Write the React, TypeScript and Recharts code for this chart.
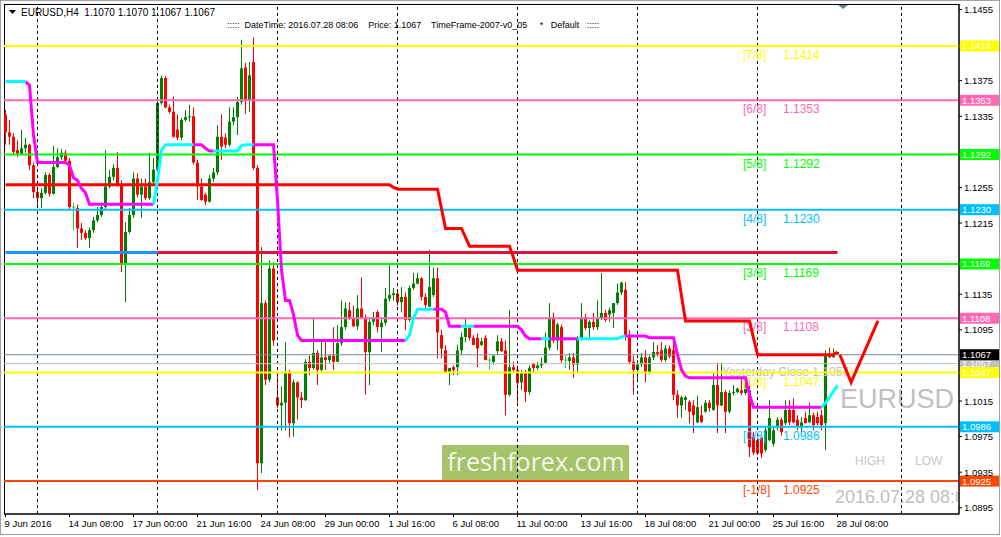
import React from "react";
import { ComposedChart, Bar, Line, XAxis, YAxis, ReferenceLine } from "recharts";

// EURUSD H4 candles, 9 Jun 2016 16:00 .. 28 Jul 2016 08:00 (one entry per bar)
const opens = [
  1.1337, 1.1317, 1.1312, 1.1297, 1.1293, 1.1299, 1.1303, 1.1280, 1.1250, 1.1243,
  1.1249, 1.1269, 1.1248, 1.1278, 1.1289, 1.1294, 1.1285, 1.1233, 1.1232, 1.1209,
  1.1204, 1.1198, 1.1207, 1.1218, 1.1224, 1.1233, 1.1256, 1.1267, 1.1277, 1.1258,
  1.1168, 1.1205, 1.1224, 1.1265, 1.1247, 1.1256, 1.1243, 1.1261, 1.1275, 1.1350,
  1.1378, 1.1345, 1.1340, 1.1320, 1.1311, 1.1331, 1.1334, 1.1335, 1.1283, 1.1256,
  1.1247, 1.1239, 1.1265, 1.1272, 1.1312, 1.1311, 1.1303, 1.1329, 1.1334, 1.1351,
  1.1390, 1.1353, 1.1396, 1.1277, 1.0945, 1.1125, 1.1039, 1.1164, 1.1019, 1.1010,
  1.1013, 1.1047, 1.0990, 1.1036, 1.1019, 1.1016, 1.1059, 1.1052, 1.1069, 1.1050,
  1.1064, 1.1061, 1.1066, 1.1059, 1.1080, 1.1098, 1.1117, 1.1108, 1.1099, 1.1119,
  1.1109, 1.1070, 1.1104, 1.1115, 1.1098, 1.1103, 1.1130, 1.1134, 1.1136, 1.1126,
  1.1132, 1.1106, 1.1142, 1.1147, 1.1153, 1.1132, 1.1121, 1.1134, 1.1153, 1.1089,
  1.1072, 1.1047, 1.1053, 1.1053, 1.1072, 1.1087, 1.1097, 1.1086, 1.1086, 1.1078,
  1.1086, 1.1061, 1.1059, 1.1071, 1.1082, 1.1072, 1.1022, 1.1053, 1.1050, 1.1036,
  1.1046, 1.1025, 1.1057, 1.1052, 1.1055, 1.1058, 1.1075, 1.1109, 1.1083, 1.1098,
  1.1061, 1.1060, 1.1064, 1.1056, 1.1086, 1.1109, 1.1097, 1.1104, 1.1098, 1.1108,
  1.1114, 1.1112, 1.1114, 1.1125, 1.1137, 1.1140, 1.1087, 1.1059, 1.1050, 1.1056,
  1.1064, 1.1047, 1.1064, 1.1070, 1.1072, 1.1061, 1.1074, 1.1072, 1.1022, 1.1010,
  1.1016, 1.1014, 1.1010, 1.0991, 1.0999, 1.1003, 1.1013, 1.1005, 1.1033, 1.1010,
  1.1025, 1.1003, 1.1024, 1.1025, 1.1027, 1.1024, 1.1027, 1.0974, 1.0971, 1.0974,
  1.0960, 1.0971, 1.0967, 1.0985, 1.0994, 1.0990, 1.1005, 1.1005, 1.0994, 1.0985,
  1.0996, 1.0991, 1.0999, 1.0997, 1.0999, 1.0990, 1.1067, 1.1064, 1.1070,
];
const highs = [
  1.1342, 1.1331, 1.1316, 1.1308, 1.1320, 1.1311, 1.1304, 1.1283, 1.1252, 1.1254,
  1.1272, 1.1271, 1.1302, 1.1299, 1.1298, 1.1297, 1.1288, 1.1238, 1.1236, 1.1215,
  1.1207, 1.1210, 1.1222, 1.1233, 1.1238, 1.1297, 1.1275, 1.1281, 1.1295, 1.1263,
  1.1216, 1.1232, 1.1272, 1.1271, 1.1265, 1.1265, 1.1294, 1.1288, 1.1353, 1.1381,
  1.1380, 1.1348, 1.1357, 1.1337, 1.1333, 1.1342, 1.1348, 1.1345, 1.1286, 1.1265,
  1.1249, 1.1269, 1.1277, 1.1325, 1.1337, 1.1316, 1.1345, 1.1345, 1.1357, 1.1421,
  1.1395, 1.1396, 1.1424, 1.1280, 1.1188, 1.1128, 1.1173, 1.1171, 1.1047, 1.1031,
  1.1081, 1.1050, 1.1039, 1.1037, 1.1025, 1.1062, 1.1066, 1.1109, 1.1072, 1.1083,
  1.1081, 1.1066, 1.1098, 1.1100, 1.1128, 1.1126, 1.1126, 1.1122, 1.1134, 1.1154,
  1.1112, 1.1108, 1.1115, 1.1117, 1.1108, 1.1142, 1.1168, 1.1142, 1.1140, 1.1143,
  1.1137, 1.1145, 1.1159, 1.1159, 1.1154, 1.1136, 1.1185, 1.1165, 1.1165, 1.1095,
  1.1078, 1.1052, 1.1055, 1.1078, 1.1092, 1.1109, 1.1100, 1.1089, 1.1091, 1.1086,
  1.1089, 1.1064, 1.1066, 1.1089, 1.1086, 1.1083, 1.1117, 1.1059, 1.1055, 1.1050,
  1.1050, 1.1055, 1.1058, 1.1059, 1.1064, 1.1092, 1.1125, 1.1114, 1.1103, 1.1101,
  1.1066, 1.1069, 1.1069, 1.1088, 1.1125, 1.1113, 1.1106, 1.1114, 1.1128, 1.1159,
  1.1117, 1.1120, 1.1125, 1.1147, 1.1149, 1.1149, 1.1095, 1.1066, 1.1061, 1.1069,
  1.1072, 1.1066, 1.1081, 1.1078, 1.1081, 1.1078, 1.1077, 1.1083, 1.1027, 1.1021,
  1.1021, 1.1016, 1.1016, 1.1021, 1.1010, 1.1016, 1.1016, 1.1047, 1.1058, 1.1058,
  1.1027, 1.1027, 1.1033, 1.1030, 1.1042, 1.1039, 1.1039, 1.0980, 1.0974, 1.0976,
  1.0985, 1.1016, 1.0985, 1.0997, 1.0996, 1.1016, 1.1016, 1.1018, 1.0999, 1.0997,
  1.1003, 1.1013, 1.1002, 1.1003, 1.1005, 1.1072, 1.1075, 1.1074, 1.1070,
];
const lows = [
  1.1303, 1.1303, 1.1292, 1.1289, 1.1292, 1.1294, 1.1275, 1.1243, 1.1232, 1.1232,
  1.1247, 1.1245, 1.1247, 1.1277, 1.1286, 1.1283, 1.1231, 1.1207, 1.1187, 1.1196,
  1.1196, 1.1187, 1.1204, 1.1216, 1.1222, 1.1231, 1.1254, 1.1263, 1.1256, 1.1160,
  1.1126, 1.1203, 1.1221, 1.1244, 1.1221, 1.1241, 1.1241, 1.1259, 1.1272, 1.1348,
  1.1344, 1.1338, 1.1311, 1.1308, 1.1308, 1.1329, 1.1329, 1.1281, 1.1241, 1.1240,
  1.1235, 1.1238, 1.1261, 1.1269, 1.1286, 1.1299, 1.1301, 1.1325, 1.1314, 1.1348,
  1.1338, 1.1340, 1.1275, 1.0915, 1.0934, 1.1033, 1.1036, 1.1077, 1.1007, 1.0982,
  1.0982, 1.0974, 1.0975, 1.0994, 1.1007, 1.1015, 1.1044, 1.1050, 1.1033, 1.1048,
  1.1050, 1.1058, 1.1050, 1.1059, 1.1077, 1.1095, 1.1106, 1.1098, 1.1095, 1.1108,
  1.1022, 1.1033, 1.1100, 1.1092, 1.1070, 1.1100, 1.1127, 1.1128, 1.1122, 1.1115,
  1.1095, 1.1104, 1.1140, 1.1146, 1.1128, 1.1117, 1.1121, 1.1132, 1.1063, 1.1063,
  1.1047, 1.1033, 1.1044, 1.1044, 1.1067, 1.1081, 1.1083, 1.1078, 1.1053, 1.1077,
  1.1061, 1.1050, 1.1056, 1.1068, 1.1070, 1.0999, 1.1020, 1.1047, 1.1013, 1.1027,
  1.1014, 1.1022, 1.1047, 1.1050, 1.1052, 1.1057, 1.1072, 1.1080, 1.1072, 1.1058,
  1.1052, 1.1050, 1.1041, 1.1047, 1.1083, 1.1095, 1.1086, 1.1095, 1.1095, 1.1106,
  1.1104, 1.1104, 1.1097, 1.1123, 1.1134, 1.1083, 1.1056, 1.1022, 1.1039, 1.1053,
  1.1036, 1.1045, 1.1061, 1.1065, 1.1059, 1.1059, 1.1063, 1.1016, 1.0996, 1.0996,
  1.1005, 1.0990, 1.0979, 1.0990, 1.0991, 1.1002, 1.1003, 1.1004, 1.0979, 1.1009,
  1.0979, 1.1001, 1.1021, 1.1024, 1.1022, 1.1022, 1.0952, 1.0954, 1.0954, 1.0951,
  1.0958, 1.0970, 1.0964, 1.0982, 1.0976, 1.0988, 1.0988, 1.0990, 1.0982, 1.0980,
  1.0990, 1.0990, 1.0982, 1.0988, 1.0982, 1.0960, 1.1064, 1.1064, 1.1067,
];
const closes = [
  1.1317, 1.1312, 1.1295, 1.1293, 1.1299, 1.1303, 1.1280, 1.1250, 1.1243, 1.1249,
  1.1269, 1.1248, 1.1278, 1.1289, 1.1294, 1.1285, 1.1233, 1.1233, 1.1209, 1.1204,
  1.1198, 1.1207, 1.1218, 1.1224, 1.1233, 1.1256, 1.1267, 1.1277, 1.1258, 1.1168,
  1.1205, 1.1224, 1.1265, 1.1247, 1.1256, 1.1243, 1.1261, 1.1275, 1.1350, 1.1378,
  1.1345, 1.1340, 1.1312, 1.1311, 1.1331, 1.1334, 1.1335, 1.1283, 1.1256, 1.1241,
  1.1239, 1.1265, 1.1272, 1.1312, 1.1301, 1.1303, 1.1329, 1.1334, 1.1351, 1.1389,
  1.1353, 1.1381, 1.1277, 1.0945, 1.1125, 1.1039, 1.1164, 1.1083, 1.1010, 1.1013,
  1.1047, 1.0990, 1.1036, 1.1019, 1.1016, 1.1059, 1.1052, 1.1069, 1.1050, 1.1064,
  1.1061, 1.1066, 1.1059, 1.1080, 1.1098, 1.1119, 1.1108, 1.1099, 1.1119, 1.1109,
  1.1070, 1.1104, 1.1109, 1.1098, 1.1103, 1.1130, 1.1134, 1.1136, 1.1126, 1.1132,
  1.1106, 1.1142, 1.1147, 1.1153, 1.1132, 1.1123, 1.1143, 1.1153, 1.1092, 1.1074,
  1.1047, 1.1052, 1.1050, 1.1072, 1.1087, 1.1097, 1.1086, 1.1078, 1.1074, 1.1082,
  1.1061, 1.1061, 1.1066, 1.1082, 1.1071, 1.1022, 1.1053, 1.1050, 1.1035, 1.1046,
  1.1025, 1.1052, 1.1052, 1.1055, 1.1058, 1.1075, 1.1109, 1.1083, 1.1101, 1.1061,
  1.1061, 1.1064, 1.1056, 1.1086, 1.1109, 1.1097, 1.1104, 1.1098, 1.1108, 1.1114,
  1.1106, 1.1117, 1.1125, 1.1137, 1.1148, 1.1087, 1.1059, 1.1050, 1.1056, 1.1064,
  1.1047, 1.1064, 1.1070, 1.1068, 1.1061, 1.1074, 1.1065, 1.1022, 1.1010, 1.1019,
  1.1019, 1.1003, 1.0999, 1.1008, 1.0991, 1.1013, 1.1007, 1.1033, 1.1010, 1.1025,
  1.1003, 1.1024, 1.1025, 1.1029, 1.1024, 1.1035, 1.0963, 1.0957, 1.0956, 1.0956,
  1.0982, 1.0996, 1.0982, 1.0994, 1.0980, 1.1005, 1.0991, 1.0991, 1.0986, 1.0991,
  1.0990, 1.0999, 1.0988, 1.0990, 1.0988, 1.1067, 1.1064, 1.1066, 1.1067,
];

const xTickBars = [0, 16, 32, 48, 64, 80, 96, 112, 128, 144, 160, 176, 192, 208];
const xTickLabels = [
  "9 Jun 2016", "14 Jun 08:00", "17 Jun 00:00", "21 Jun 16:00", "24 Jun 08:00",
  "29 Jun 00:00", "1 Jul 16:00", "6 Jul 08:00", "11 Jul 00:00", "13 Jul 16:00",
  "18 Jul 08:00", "21 Jul 00:00", "25 Jul 16:00", "28 Jul 08:00",
];
const yTicks = [1.0895, 1.0935, 1.0975, 1.1015, 1.1095, 1.1135, 1.1215, 1.1255, 1.1335, 1.1375, 1.1455];
const weekSeparators = [8, 38, 68, 98, 128, 158, 188, 224];

// Murrey math levels
const mmLevels = [1.1414, 1.1353, 1.1292, 1.123, 1.1169, 1.1108, 1.1047, 1.0986, 1.0925];
const mmNames = ["[7/8]", "[6/8]", "[5/8]", "[4/8]", "[3/8]", "[2/8]", "[1/8]", "[0/8]", "[-1/8]"];
const mmColors = ["#FFFF00", "#FF69B4", "#00FF00", "#00BFFF", "#00FF00", "#FF69B4", "#FFFF00", "#00BFFF", "#FF4500"];

const currentPrice = 1.1067;
const yesterdayClose = 1.1057;
const dailyLevel = 1.1182;
const dailyLevelSwitchBar = 38;

// stepped indicators: [bar from which the value holds, value]
const stopSteps: [number, number][] = [
  [0, 1.1258], [97, 1.1255], [98, 1.1253], [109, 1.1231], [110, 1.1209], [115, 1.1199],
  [116, 1.1189], [127, 1.1176], [128, 1.1162], [169, 1.1133], [170, 1.1105], [187, 1.1086],
  [188, 1.1067], [208, 1.107],
];
const trendSteps: [number, number][] = [
  [0, 1.1374], [6, 1.137], [7, 1.1314], [8, 1.1283], [16, 1.128], [17, 1.1266], [18, 1.1263],
  [19, 1.1254], [20, 1.1249], [21, 1.1236], [38, 1.1263], [39, 1.1297], [40, 1.1303],
  [50, 1.1299], [51, 1.1296], [59, 1.1302], [60, 1.1303], [68, 1.1241], [69, 1.1162],
  [70, 1.1128], [72, 1.1112], [73, 1.1089], [74, 1.1083], [101, 1.1089], [102, 1.1108],
  [103, 1.1118], [110, 1.1115], [111, 1.1099], [129, 1.1095], [130, 1.1088], [131, 1.1085],
  [154, 1.1087], [155, 1.1088], [161, 1.1086], [168, 1.1067], [169, 1.105], [170, 1.1043],
  [171, 1.1041], [186, 1.1022], [187, 1.1008], [205, 1.1013], [206, 1.1019], [207, 1.1026],
  [208, 1.1033],
];
const trendUpRanges: [number, number][] = [
  [0, 5], [37, 47], [52, 62], [100, 107], [114, 117], [134, 136], [143, 155], [204, 208],
];

const arrowBars = [208.6, 211.4, 218.1];
const arrowPrices = [1.1067, 1.1036, 1.1105];

const Y_MIN = 1.0888;
const Y_MAX = 1.14612;
const FONT = "'Liberation Sans', Arial, sans-serif";

const holdStep = (steps: [number, number][], i: number) => {
  let v = steps[0][1];
  for (const [b, val] of steps) if (b <= i) v = val;
  return v;
};

const data = opens.map((o, i) => {
  const t = holdStep(trendSteps, i);
  const up = trendUpRanges.some(([s, e]) => i >= s && i <= e);
  const down = !trendUpRanges.some(([s, e]) => i > s && i < e);
  return {
    i,
    open: o,
    high: highs[i],
    low: lows[i],
    close: closes[i],
    range: [lows[i], highs[i]],
    stop: holdStep(stopSteps, i),
    trendUp: up ? t : null,
    trendDown: down ? t : null,
    levelBlue: i <= dailyLevelSwitchBar ? dailyLevel : null,
    levelRed: i >= dailyLevelSwitchBar ? dailyLevel : null,
  };
});
const arrowData = arrowBars.map((b, k) => ({ i: b, arrow: arrowPrices[k] }));

const Candle = (props: any) => {
  const { x, y, width, height, payload } = props;
  if (!payload || payload.high == null) return null;
  const { open, close, high, low } = payload;
  const k = high > low ? height / (high - low) : 510 / (Y_MAX - Y_MIN);
  const yO = y + (high - open) * k;
  const yC = y + (high - close) * k;
  const doji = open === close;
  const color = doji ? "#32CD32" : close > open ? "#008000" : "#FF0000";
  const cx = Math.floor(x + width / 2) + 0.5;
  const top = Math.min(yO, yC);
  const bh = Math.max(1, Math.abs(yC - yO));
  return (
    <g>
      <line x1={cx} x2={cx} y1={y} y2={y + Math.max(height, 1)} stroke={color} strokeWidth={1} />
      {doji ? (
        <line x1={cx - 2} x2={cx + 2} y1={yO} y2={yO} stroke={color} strokeWidth={1} />
      ) : (
        <rect x={cx - 1.5} y={top} width={3} height={bh} fill={color} />
      )}
    </g>
  );
};

const XTick = (props: any) => {
  const { x, y, payload } = props;
  const idx = xTickBars.indexOf(payload.value);
  return (
    <text x={x - 1} y={y + 8} fontSize={9.5} fontFamily={FONT} fill="#000" textAnchor="start">
      {xTickLabels[idx]}
    </text>
  );
};

const YTick = (props: any) => {
  const { x, y, payload } = props;
  return (
    <text x={x} y={y + 3.5} fontSize={9.5} fontFamily={FONT} fill="#000" textAnchor="start">
      {Number(payload.value).toFixed(4)}
    </text>
  );
};

const LevelLabel = (props: any) => {
  const { viewBox, name, value, color, textColor, note } = props;
  if (!viewBox) return null;
  const y = viewBox.y;
  const right = viewBox.x + viewBox.width;
  return (
    <g>
      {name && (
        <text x={743} y={y + 13} fontSize={12} fontFamily={FONT} fill={color}>
          {name}
        </text>
      )}
      {name && (
        <text x={783} y={y + 13} fontSize={12} fontFamily={FONT} fill={color}>
          {value.toFixed(4)}
        </text>
      )}
      {note && (
        <text x={722} y={y + 12} fontSize={12} fontFamily={FONT} fill="#BEBEBE">
          {note}
        </text>
      )}
      <rect x={right + 1} y={y - 5.5} width={39} height={11} fill={color} />
      <text x={right + 3} y={y + 3.5} fontSize={9.5} fontFamily={FONT} fill={textColor || "#FFFFFF"}>
        {value.toFixed(4)}
      </text>
    </g>
  );
};

const Backdrop = () => (
  <svg width={1001} height={537} style={{ position: "absolute", left: 0, top: 0 }}>
    <defs>
      <clipPath id="plotClip">
        <rect x={4} y={4} width={955} height={510} />
      </clipPath>
    </defs>
    <rect x={0} y={0} width={1001} height={537} fill="#FFFFFF" />
    <rect x={0.5} y={0.5} width={999} height={534} fill="none" stroke="#A0A0A0" />
    <rect x={4.5} y={4.5} width={954.5} height={509.5} fill="none" stroke="#000" />
    <polygon points="9,10 16,10 12.5,14" fill="#000" />
    <text x={21} y={16} fontSize={10} fontFamily={FONT} fill="#000" style={{ whiteSpace: "pre" }}>
      {"EURUSD,H4  1.1070 1.1070 1.1067 1.1067"}
    </text>
    <text x={227} y={28} fontSize={9} fontFamily={FONT} fill="#000" style={{ whiteSpace: "pre" }}>
      {":::::  DateTime: 2016.07.28 08:06    Price: 1.1067    TimeFrame-2007-v0_05     *   Default   :::::"}
    </text>
    <polygon points="838,5 848,5 843,9" fill="#708090" />
    <rect x={442} y={445} width={187} height={35} fill="#A5C36A" />
    <text x={536} y={471} fontSize={25} fontFamily="'Open Sans', 'Noto Sans', sans-serif" fill="#F3F7EA" textAnchor="middle">
      freshforex.com
    </text>
    <text x={840} y={408} fontSize={27} fontFamily={FONT} fill="#C0C0C0">
      EURUSD
    </text>
    <text x={855} y={465} fontSize={12} fontFamily={FONT} fill="#C8C8C8">
      HIGH
    </text>
    <text x={915} y={465} fontSize={12} fontFamily={FONT} fill="#C8C8C8">
      LOW
    </text>
    <g clipPath="url(#plotClip)">
      <text x={835} y={503} fontSize={18} fontFamily={FONT} fill="#C0C0C0">
        2016.07.28 08:06
      </text>
    </g>
  </svg>
);

export default function App() {
  return (
    <div style={{ position: "absolute", left: 0, top: 0, width: 1001, height: 537, overflow: "hidden" }}>
      <Backdrop />
      <div style={{ position: "absolute", left: 0, top: 0 }}>
        <ComposedChart width={1001} height={537} data={data} margin={{ top: 4, right: 0, bottom: 0, left: 4 }}>
          <XAxis
            dataKey="i"
            type="number"
            domain={[-0.375, 238.375]}
            allowDataOverflow
            ticks={xTickBars}
            interval={0}
            height={23}
            tickSize={3}
            stroke="#000"
            tick={<XTick />}
          />
          <YAxis
            orientation="right"
            type="number"
            domain={[Y_MIN, Y_MAX]}
            allowDataOverflow
            ticks={yTicks}
            interval={0}
            width={42}
            tickSize={3}
            stroke="#000"
            tick={<YTick />}
          />
          {weekSeparators.map((b) => (
            <ReferenceLine key={"w" + b} x={b} stroke="#000" strokeDasharray="3 3" strokeWidth={1} />
          ))}
          <Bar dataKey="range" barSize={3} shape={(p: any) => <Candle {...p} />} isAnimationActive={false} />
          <ReferenceLine
            y={yesterdayClose}
            stroke="#C0C0C0"
            strokeWidth={1}
            label={<LevelLabel value={yesterdayClose} color="#C0C0C0" note={"Yesterday Close " + yesterdayClose.toFixed(4)} />}
          />
          {mmLevels.map((v, k) => (
            <ReferenceLine
              key={"mm" + k}
              y={v}
              stroke={mmColors[k]}
              strokeWidth={2}
              label={<LevelLabel name={mmNames[k]} value={v} color={mmColors[k]} />}
            />
          ))}
          <ReferenceLine
            y={currentPrice}
            stroke="#778899"
            strokeWidth={1}
            label={<LevelLabel value={currentPrice} color="#000000" />}
          />
          <Line dataKey="levelBlue" stroke="#1E90FF" strokeWidth={3} dot={false} isAnimationActive={false} />
          <Line dataKey="levelRed" stroke="#DC143C" strokeWidth={3} dot={false} isAnimationActive={false} />
          <Line dataKey="stop" stroke="#FF0000" strokeWidth={3} dot={false} isAnimationActive={false} />
          <Line dataKey="trendDown" stroke="#FF00FF" strokeWidth={3} dot={false} isAnimationActive={false} />
          <Line dataKey="trendUp" stroke="#00FFFF" strokeWidth={3} dot={false} isAnimationActive={false} />
          <Line data={arrowData} dataKey="arrow" stroke="#FF0000" strokeWidth={3} dot={false} isAnimationActive={false} />
        </ComposedChart>
      </div>
    </div>
  );
}
